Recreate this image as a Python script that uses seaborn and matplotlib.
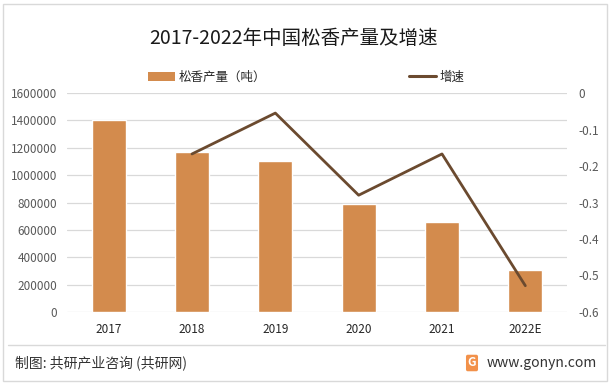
import matplotlib
matplotlib.use("Agg")
import matplotlib.pyplot as plt
import numpy as np
import pandas as pd
import seaborn as sns
from matplotlib.lines import Line2D
from matplotlib.patches import Patch, Rectangle

# data
years = ["2017", "2018", "2019", "2020", "2021", "2022E"]
output_tons = [1400000, 1170000, 1100000, 790000, 657000, 305000]
growth_years = ["2018", "2019", "2020", "2021", "2022E"]
growth = [-0.167, -0.055, -0.280, -0.167, -0.528]

left_ticks = [0, 200000, 400000, 600000, 800000, 1000000, 1200000, 1400000, 1600000]
right_ticks = [0, -0.1, -0.2, -0.3, -0.4, -0.5, -0.6]

bar_color = "#D38B4D"
line_color = "#6B4A2F"
grid_color = "#D9D9D9"
text_color = "#595959"

sns.set_theme(style="white")
plt.rcParams["font.family"] = ["Noto Sans CJK SC", "DejaVu Sans"]

fig = plt.figure(figsize=(6.13, 3.85), dpi=100)
ax = fig.add_axes([67 / 613, 1 - 312 / 385, 500 / 613, 219 / 385])

df = pd.DataFrame({"year": years, "tons": output_tons})
sns.barplot(data=df, x="year", y="tons", color=bar_color, saturation=1,
            width=0.41, ax=ax, zorder=2)
ax.set_ylim(0, 1600000)
ax.set_yticks(left_ticks)
ax.set_yticklabels([str(t) for t in left_ticks])
ax.set_xlim(-0.5, len(years) - 0.5)
ax.grid(axis="y", color=grid_color, linewidth=0.9, zorder=0)
ax.set_axisbelow(True)
ax.set_xlabel("")
ax.set_ylabel("")
ax.tick_params(axis="both", length=0, labelsize=8.5, colors=text_color)
ax.tick_params(axis="y", pad=7)
ax.tick_params(axis="x", pad=8, labelcolor="#262626")
for s in ax.spines.values():
    s.set_visible(False)

ax2 = ax.twinx()
gdf = pd.DataFrame({"x": [years.index(y) for y in growth_years], "g": growth})
sns.lineplot(data=gdf, x="x", y="g", color=line_color, linewidth=2.0, ax=ax2)
ax2.set_ylim(-0.6, 0)
ax2.set_yticks(right_ticks)
ax2.set_yticklabels(["0", "-0.1", "-0.2", "-0.3", "-0.4", "-0.5", "-0.6"])
ax2.set_xlim(-0.5, len(years) - 0.5)
ax2.set_ylabel("")
ax2.grid(False)
ax2.tick_params(axis="y", length=0, labelsize=8.5, colors=text_color, pad=8)
for s in ax2.spines.values():
    s.set_visible(False)

fig.text(294 / 613, 1 - 38 / 385, "2017-2022年中国松香产量及增速",
         ha="center", va="center", fontsize=14, color="#1a1a1a")

handles = [Patch(facecolor=bar_color, edgecolor="none"),
           Line2D([0], [0], color=line_color, linewidth=2.2)]
fig.legend(handles, ["松香产量（吨）", "增速"], loc="center",
           bbox_to_anchor=(306 / 613, 1 - 77 / 385), ncol=2, frameon=False,
           fontsize=9, handlelength=2.2, handletextpad=0.25,
           columnspacing=11.4, labelcolor="#262626")

# footer
fig.add_artist(Line2D([8 / 613, 605 / 613], [1 - 345 / 385] * 2,
                      color=grid_color, linewidth=1))
fig.text(15 / 613, 1 - 363 / 385, "制图: 共研产业咨询 (共研网)",
         ha="left", va="center", fontsize=10, color="#333333")
fig.text(597 / 613, 1 - 363 / 385, "www.gonyn.com",
         ha="right", va="center", fontsize=10, color="#333333")
fig.text(472 / 613, 1 - 363 / 385, "G", ha="center", va="center",
         fontsize=8.5, fontweight="bold", color="white",
         bbox=dict(boxstyle="round,pad=0.15", facecolor="#F2914A", edgecolor="none"))

fig.add_artist(Rectangle((3 / 613, 4 / 385), 604 / 613, 377 / 385,
                         fill=False, edgecolor=grid_color, linewidth=1))

fig.savefig("out.png", dpi=100)
